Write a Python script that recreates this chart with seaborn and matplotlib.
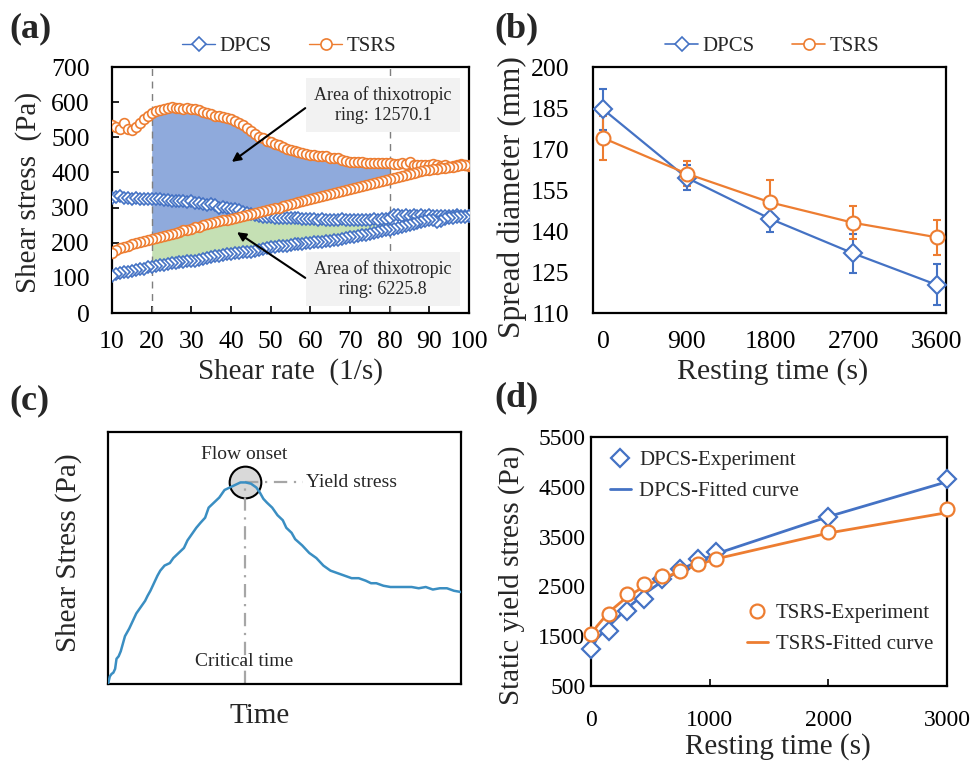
import numpy as np
import pandas as pd
import matplotlib
matplotlib.use("Agg")
import matplotlib.pyplot as plt
from matplotlib.lines import Line2D
import seaborn as sns

sns.set_style("white")
plt.rcParams['font.family'] = ['Liberation Serif', 'DejaVu Serif']
plt.rcParams['mathtext.fontset'] = 'stix'

BLUE = '#4472C4'
ORANGE = '#ED7D31'

# ---------------- (a) data ----------------
shear_rate = list(range(10, 101))
tsrs_up = [535, 530, 525, 540, 525, 522, 530, 540, 552, 562,
           570, 575, 578, 580, 582, 585, 584, 582, 581, 582,
           580, 580, 578, 572, 568, 566, 562, 560, 558, 556,
           552, 546, 540, 535, 526, 518, 508, 502, 497, 490,
           486, 482, 478, 472, 468, 465, 462, 458, 455, 452,
           450, 450, 448, 448, 446, 442, 440, 440, 436, 433,
           430, 430, 430, 429, 428, 428, 427, 428, 426, 427,
           427, 425, 424, 427, 424, 430, 422, 422, 422, 421,
           422, 423, 420, 418, 420, 415, 418, 420, 425, 422, 418]
tsrs_down = [172, 180, 185, 188, 192, 196, 198, 202, 205, 208,
             211, 213, 216, 220, 222, 225, 229, 231, 235, 237,
             240, 244, 246, 250, 252, 255, 258, 261, 264, 266,
             268, 271, 273, 276, 279, 282, 285, 288, 290, 293,
             296, 298, 300, 304, 306, 310, 312, 315, 318, 321,
             324, 327, 330, 332, 336, 338, 341, 344, 346, 349,
             352, 355, 358, 360, 364, 367, 370, 373, 376, 378,
             381, 384, 387, 390, 393, 396, 399, 402, 404, 406,
             408, 410, 411, 413, 414, 415, 416, 418, 420, 420, 421]
dpcs_up = [328, 330, 332, 328, 326, 325, 326, 324, 323, 325,
           324, 323, 325, 322, 321, 320, 319, 318, 318, 316,
           318, 314, 312, 310, 308, 309, 306, 300, 303, 298,
           296, 295, 292, 288, 285, 282, 279, 276, 274, 273,
           272, 271, 270, 270, 271, 270, 269, 270, 268, 268,
           267, 268, 266, 267, 266, 265, 266, 265, 267, 265,
           266, 264, 265, 266, 264, 266, 267, 266, 268, 268,
           270, 278, 280, 276, 278, 275, 279, 276, 278, 275,
           278, 276, 277, 275, 276, 277, 275, 278, 276, 277, 275]
dpcs_down = [104, 110, 114, 116, 118, 120, 122, 125, 126, 130,
             132, 134, 136, 137, 139, 141, 143, 145, 146, 147,
             148, 149, 150, 153, 156, 159, 161, 163, 165, 167,
             169, 171, 172, 173, 174, 175, 177, 180, 183, 185,
             187, 188, 190, 191, 192, 193, 195, 196, 197, 199,
             200, 201, 202, 203, 204, 206, 207, 209, 211, 213,
             215, 217, 219, 221, 223, 225, 227, 230, 232, 235,
             237, 240, 243, 246, 248, 251, 254, 256, 259, 262,
             264, 266, 258, 262, 268, 270, 271, 272, 273, 274, 275]
a_xticks = [10, 20, 30, 40, 50, 60, 70, 80, 90, 100]
a_yticks = [0, 100, 200, 300, 400, 500, 600, 700]

# ---------------- (b) data ----------------
rest_b = [0, 900, 1800, 2700, 3600]
dpcs_spread = [184.5, 159.5, 144.5, 131.8, 120.3]
dpcs_err = [7.5, 4.5, 5.0, 7.0, 7.5]
tsrs_spread = [174.0, 161.0, 150.5, 143.0, 137.7]
tsrs_err = [8.0, 4.5, 8.0, 6.0, 6.5]
b_yticks = [110, 125, 140, 155, 170, 185, 200]

# ---------------- (c) data ----------------
c_time = [0.000, 0.005, 0.010, 0.015, 0.020, 0.024, 0.030, 0.036, 0.042, 0.048,
          0.052, 0.060, 0.070, 0.080, 0.085, 0.095, 0.105, 0.112, 0.120, 0.130,
          0.140, 0.148, 0.160, 0.175, 0.185, 0.200, 0.215, 0.225, 0.240, 0.250,
          0.262, 0.275, 0.285, 0.300, 0.315, 0.330, 0.345, 0.360, 0.375, 0.390,
          0.405, 0.420, 0.430, 0.440, 0.450, 0.465, 0.480, 0.495, 0.505, 0.520,
          0.530, 0.550, 0.570, 0.590, 0.610, 0.630, 0.650, 0.670, 0.690, 0.710,
          0.730, 0.745, 0.760, 0.780, 0.800, 0.830, 0.860, 0.880, 0.900, 0.920,
          0.940, 0.960, 0.980, 1.000]
c_stress = [0.00, 0.03, 0.04, 0.045, 0.06, 0.10, 0.11, 0.13, 0.16, 0.19,
            0.20, 0.22, 0.25, 0.28, 0.29, 0.31, 0.33, 0.35, 0.37, 0.40,
            0.43, 0.45, 0.47, 0.48, 0.50, 0.52, 0.54, 0.57, 0.60, 0.62,
            0.64, 0.66, 0.70, 0.72, 0.74, 0.77, 0.78, 0.79, 0.80, 0.80,
            0.795, 0.78, 0.76, 0.735, 0.72, 0.70, 0.67, 0.65, 0.62, 0.60,
            0.575, 0.55, 0.52, 0.50, 0.47, 0.45, 0.44, 0.43, 0.42, 0.42,
            0.41, 0.40, 0.40, 0.39, 0.385, 0.385, 0.385, 0.38, 0.385, 0.375,
            0.38, 0.38, 0.37, 0.365]
c_peak = (0.388, 0.80)

# ---------------- (d) data ----------------
rest_d = [0, 150, 300, 450, 600, 750, 900, 1050, 2000, 3000]
dpcs_yield = [1250, 1600, 2000, 2250, 2650, 2850, 3050, 3200, 3900, 4650]
tsrs_yield = [1550, 1950, 2350, 2550, 2700, 2800, 2950, 3050, 3600, 4050]
fit_x = [0, 50, 150, 300, 450, 600, 750, 900, 1050, 2000, 3000]
dpcs_fit = [1230, 1450, 1700, 2050, 2350, 2600, 2830, 3000, 3150, 3900, 4600]
tsrs_fit = [1520, 1700, 1980, 2280, 2500, 2660, 2800, 2930, 3050, 3570, 3980]
d_yticks = [500, 1500, 2500, 3500, 4500, 5500]
d_xticks = [0, 1000, 2000, 3000]

TICK_AB = 18.5
TICK_D = 17
LAB_FS = 21
LEG_FS = 15

fig = plt.figure(figsize=(9.76, 7.64), dpi=100)
axA = fig.add_axes([0.1148, 0.5903, 0.3658, 0.322])
axB = fig.add_axes([0.6076, 0.5903, 0.3617, 0.322])
axC = fig.add_axes([0.1107, 0.1047, 0.3617, 0.3298])
axD = fig.add_axes([0.6055, 0.1021, 0.3648, 0.326])

for ax in (axA, axB, axC, axD):
    for s in ax.spines.values():
        s.set_color('black')
        s.set_linewidth(1.6)
    ax.grid(False)

# ---------------- panel (a) ----------------
xa = np.array(shear_rate, dtype=float)
tu = np.array(tsrs_up, float); td = np.array(tsrs_down, float)
du = np.array(dpcs_up, float); dd = np.array(dpcs_down, float)
mask = (xa >= 20) & (xa <= 80)
axA.fill_between(xa, dd, du, where=mask, color='#C5E0B4', lw=0, zorder=1)
axA.fill_between(xa, td, tu, where=mask, color='#8FAADC', lw=0, zorder=1.5)
axA.axvline(20, color='#7F7F7F', lw=1, ls=(0, (5, 4)), zorder=1.6)
axA.axvline(80, color='#7F7F7F', lw=1, ls=(0, (5, 4)), zorder=1.6)

dfa_d = pd.DataFrame({'x': list(xa) + list(xa[::-1]), 'y': list(du) + list(dd[::-1])})
dfa_t = pd.DataFrame({'x': list(xa) + list(xa[::-1]), 'y': list(tu) + list(td[::-1])})
sns.lineplot(data=dfa_d, x='x', y='y', sort=False, estimator=None, ax=axA, color=BLUE,
             lw=1, marker='D', markersize=6, markerfacecolor='white',
             markeredgecolor=BLUE, markeredgewidth=1.2, zorder=3)
sns.lineplot(data=dfa_t, x='x', y='y', sort=False, estimator=None, ax=axA, color=ORANGE,
             lw=1, marker='o', markersize=7, markerfacecolor='white',
             markeredgecolor=ORANGE, markeredgewidth=1.2, zorder=3)
axA.set_xlim(10, 100)
axA.set_ylim(0, 700)
axA.set_xticks(a_xticks)
axA.set_yticks(a_yticks)
axA.tick_params(axis='both', direction='in', length=5, width=1.2, labelsize=TICK_AB,
                colors='black', left=True, bottom=True)
axA.tick_params(axis='x', pad=13)
axA.tick_params(axis='y', pad=16)
axA.set_xlabel('Shear rate  (1/s)', fontsize=LAB_FS)
axA.set_ylabel('Shear stress  (Pa)', fontsize=LAB_FS)
axA.xaxis.set_label_coords(0.5, -0.185)
axA.yaxis.set_label_coords(-0.195, 0.49)

box = dict(boxstyle='square,pad=0.45', facecolor='#F2F2F2', edgecolor='none')
axA.text(78.3, 592, 'Area of thixotropic\nring: 12570.1', ha='center', va='center',
         fontsize=13, bbox=box, zorder=5, linespacing=1.2)
axA.text(78.3, 97, 'Area of thixotropic\nring: 6225.8', ha='center', va='center',
         fontsize=13, bbox=box, zorder=5, linespacing=1.2)
arrow = dict(arrowstyle='-|>', color='black', lw=1.5, mutation_scale=13, shrinkA=0, shrinkB=0)
axA.annotate('', xy=(40.2, 430), xytext=(58.7, 583), arrowprops=arrow, zorder=6)
axA.annotate('', xy=(41.5, 230), xytext=(58.7, 100), arrowprops=arrow, zorder=6)

hA = [Line2D([], [], color=BLUE, lw=1, marker='D', ms=7, mfc='white', mec=BLUE, mew=1.2),
      Line2D([], [], color=ORANGE, lw=1, marker='o', ms=8, mfc='white', mec=ORANGE, mew=1.2)]
axA.legend(hA, ['DPCS', 'TSRS'], loc='center', bbox_to_anchor=(0.496, 1.083), ncol=2,
           frameon=False, fontsize=LEG_FS, handlelength=1.6, handletextpad=0.2,
           columnspacing=1.8, borderaxespad=0)

# ---------------- panel (b) ----------------
dfb = pd.DataFrame({'t': rest_b * 2, 'd': dpcs_spread + tsrs_spread,
                    's': ['DPCS'] * 5 + ['TSRS'] * 5})
axB.errorbar(rest_b, dpcs_spread, yerr=dpcs_err, fmt='none', ecolor=BLUE, elinewidth=1.5,
             capsize=3, capthick=1.5, zorder=2)
axB.errorbar(rest_b, tsrs_spread, yerr=tsrs_err, fmt='none', ecolor=ORANGE, elinewidth=1.5,
             capsize=3, capthick=1.5, zorder=2)
sns.lineplot(data=dfb[dfb.s == 'DPCS'], x='t', y='d', estimator=None, ax=axB, color=BLUE,
             lw=1.6, marker='D', markersize=9, markerfacecolor='white',
             markeredgecolor=BLUE, markeredgewidth=1.5, zorder=3)
sns.lineplot(data=dfb[dfb.s == 'TSRS'], x='t', y='d', estimator=None, ax=axB, color=ORANGE,
             lw=1.6, marker='o', markersize=10, markerfacecolor='white',
             markeredgecolor=ORANGE, markeredgewidth=1.5, zorder=3)
axB.set_xlim(-110, 3700)
axB.set_ylim(110, 200)
axB.set_xticks(rest_b)
axB.set_yticks(b_yticks)
axB.tick_params(axis='both', length=0, labelsize=TICK_AB, colors='black')
axB.tick_params(axis='x', pad=13)
axB.tick_params(axis='y', pad=17)
axB.set_xlabel('Resting time (s)', fontsize=21.5)
axB.set_ylabel('Spread diameter (mm)', fontsize=22.5)
axB.xaxis.set_label_coords(0.51, -0.185)
axB.yaxis.set_label_coords(-0.187, 0.47)
hB = [Line2D([], [], color=BLUE, lw=1.2, marker='D', ms=7, mfc='white', mec=BLUE, mew=1.2),
      Line2D([], [], color=ORANGE, lw=1.2, marker='o', ms=8, mfc='white', mec=ORANGE, mew=1.2)]
axB.legend(hB, ['DPCS', 'TSRS'], loc='center', bbox_to_anchor=(0.507, 1.083), ncol=2,
           frameon=False, fontsize=LEG_FS, handlelength=1.6, handletextpad=0.2,
           columnspacing=1.8, borderaxespad=0)

# ---------------- panel (c) ----------------
dfc = pd.DataFrame({'t': c_time, 's': c_stress})
axC.plot([c_peak[0], c_peak[0]], [0, c_peak[1]], color='#A6A6A6', lw=1.6,
         ls=(0, (6, 3, 1, 3)), zorder=2)
axC.plot([c_peak[0], 0.552], [c_peak[1], c_peak[1]], color='#A6A6A6', lw=1.6,
         ls=(0, (6, 3, 1, 3)), zorder=2)
axC.scatter([c_peak[0]], [c_peak[1]], s=520, facecolor='#D9D9D9', edgecolor='black',
            linewidth=1.5, zorder=1.5)
sns.lineplot(data=dfc, x='t', y='s', sort=False, estimator=None, ax=axC,
             color='#3A8EC2', lw=1.8, zorder=3)
axC.set_xlim(0, 1)
axC.set_ylim(0, 1)
axC.set_xticks([])
axC.set_yticks([])
axC.text(0.385, 0.91, 'Flow onset', ha='center', va='center', fontsize=14)
axC.text(0.562, 0.80, 'Yield stress', ha='left', va='center', fontsize=14)
axC.text(0.385, 0.09, 'Critical time', ha='center', va='center', fontsize=14)
axC.set_xlabel('Time', fontsize=LAB_FS)
axC.set_ylabel('Shear Stress (Pa)', fontsize=LAB_FS)
axC.xaxis.set_label_coords(0.43, -0.075)
axC.yaxis.set_label_coords(-0.074, 0.52)

# ---------------- panel (d) ----------------
dfd = pd.DataFrame({'t': rest_d, 'dp': dpcs_yield, 'ts': tsrs_yield})
dff = pd.DataFrame({'t': fit_x, 'dp': dpcs_fit, 'ts': tsrs_fit})
sns.lineplot(data=dff, x='t', y='dp', estimator=None, ax=axD, color=BLUE, lw=2, zorder=2)
sns.lineplot(data=dff, x='t', y='ts', estimator=None, ax=axD, color=ORANGE, lw=2, zorder=2)
sns.lineplot(data=dfd, x='t', y='dp', estimator=None, ax=axD, linestyle='none', marker='D',
             markersize=9, markerfacecolor='white', markeredgecolor=BLUE,
             markeredgewidth=1.6, zorder=3)
sns.lineplot(data=dfd, x='t', y='ts', estimator=None, ax=axD, linestyle='none', marker='o',
             markersize=10, markerfacecolor='white', markeredgecolor=ORANGE,
             markeredgewidth=1.6, zorder=3)
for ln in axD.get_lines()[2:]:
    ln.set_clip_on(False)
axD.set_xlim(0, 3000)
axD.set_ylim(500, 5500)
axD.set_xticks(d_xticks)
axD.set_yticks(d_yticks)
axD.tick_params(axis='x', direction='in', length=5, width=1.2, bottom=True,
                labelsize=TICK_D, pad=17, colors='black')
axD.tick_params(axis='y', length=0, labelsize=TICK_D, pad=4, colors='black')
axD.set_xlabel('Resting time (s)', fontsize=LAB_FS)
axD.set_ylabel('Static yield stress (Pa)', fontsize=LAB_FS)
axD.xaxis.set_label_coords(0.525, -0.19)
axD.yaxis.set_label_coords(-0.185, 0.446)
hD1 = [Line2D([], [], ls='none', marker='D', ms=9, mfc='white', mec=BLUE, mew=1.6),
       Line2D([], [], color=BLUE, lw=2)]
hD2 = [Line2D([], [], ls='none', marker='o', ms=10, mfc='white', mec=ORANGE, mew=1.6),
       Line2D([], [], color=ORANGE, lw=2)]
leg1 = axD.legend(hD1, ['DPCS-Experiment', 'DPCS-Fitted curve'], loc='upper left',
                  bbox_to_anchor=(0.053, 0.945), frameon=False, fontsize=LEG_FS,
                  handlelength=1.0, handletextpad=0.4, labelspacing=0.55, borderaxespad=0,
                  borderpad=0)
axD.add_artist(leg1)
axD.legend(hD2, ['TSRS-Experiment', 'TSRS-Fitted curve'], loc='upper left',
           bbox_to_anchor=(0.438, 0.33), frameon=False, fontsize=LEG_FS,
           handlelength=1.0, handletextpad=0.4, labelspacing=0.55, borderaxespad=0,
           borderpad=0)

# panel letters
for lab, x, y in [('(a)', 0.010, 0.962), ('(b)', 0.507, 0.962),
                  ('(c)', 0.010, 0.476), ('(d)', 0.507, 0.479)]:
    fig.text(x, y, lab, fontsize=26, fontweight='bold', ha='left', va='center')

fig.savefig('out.png', dpi=100, facecolor='white')
